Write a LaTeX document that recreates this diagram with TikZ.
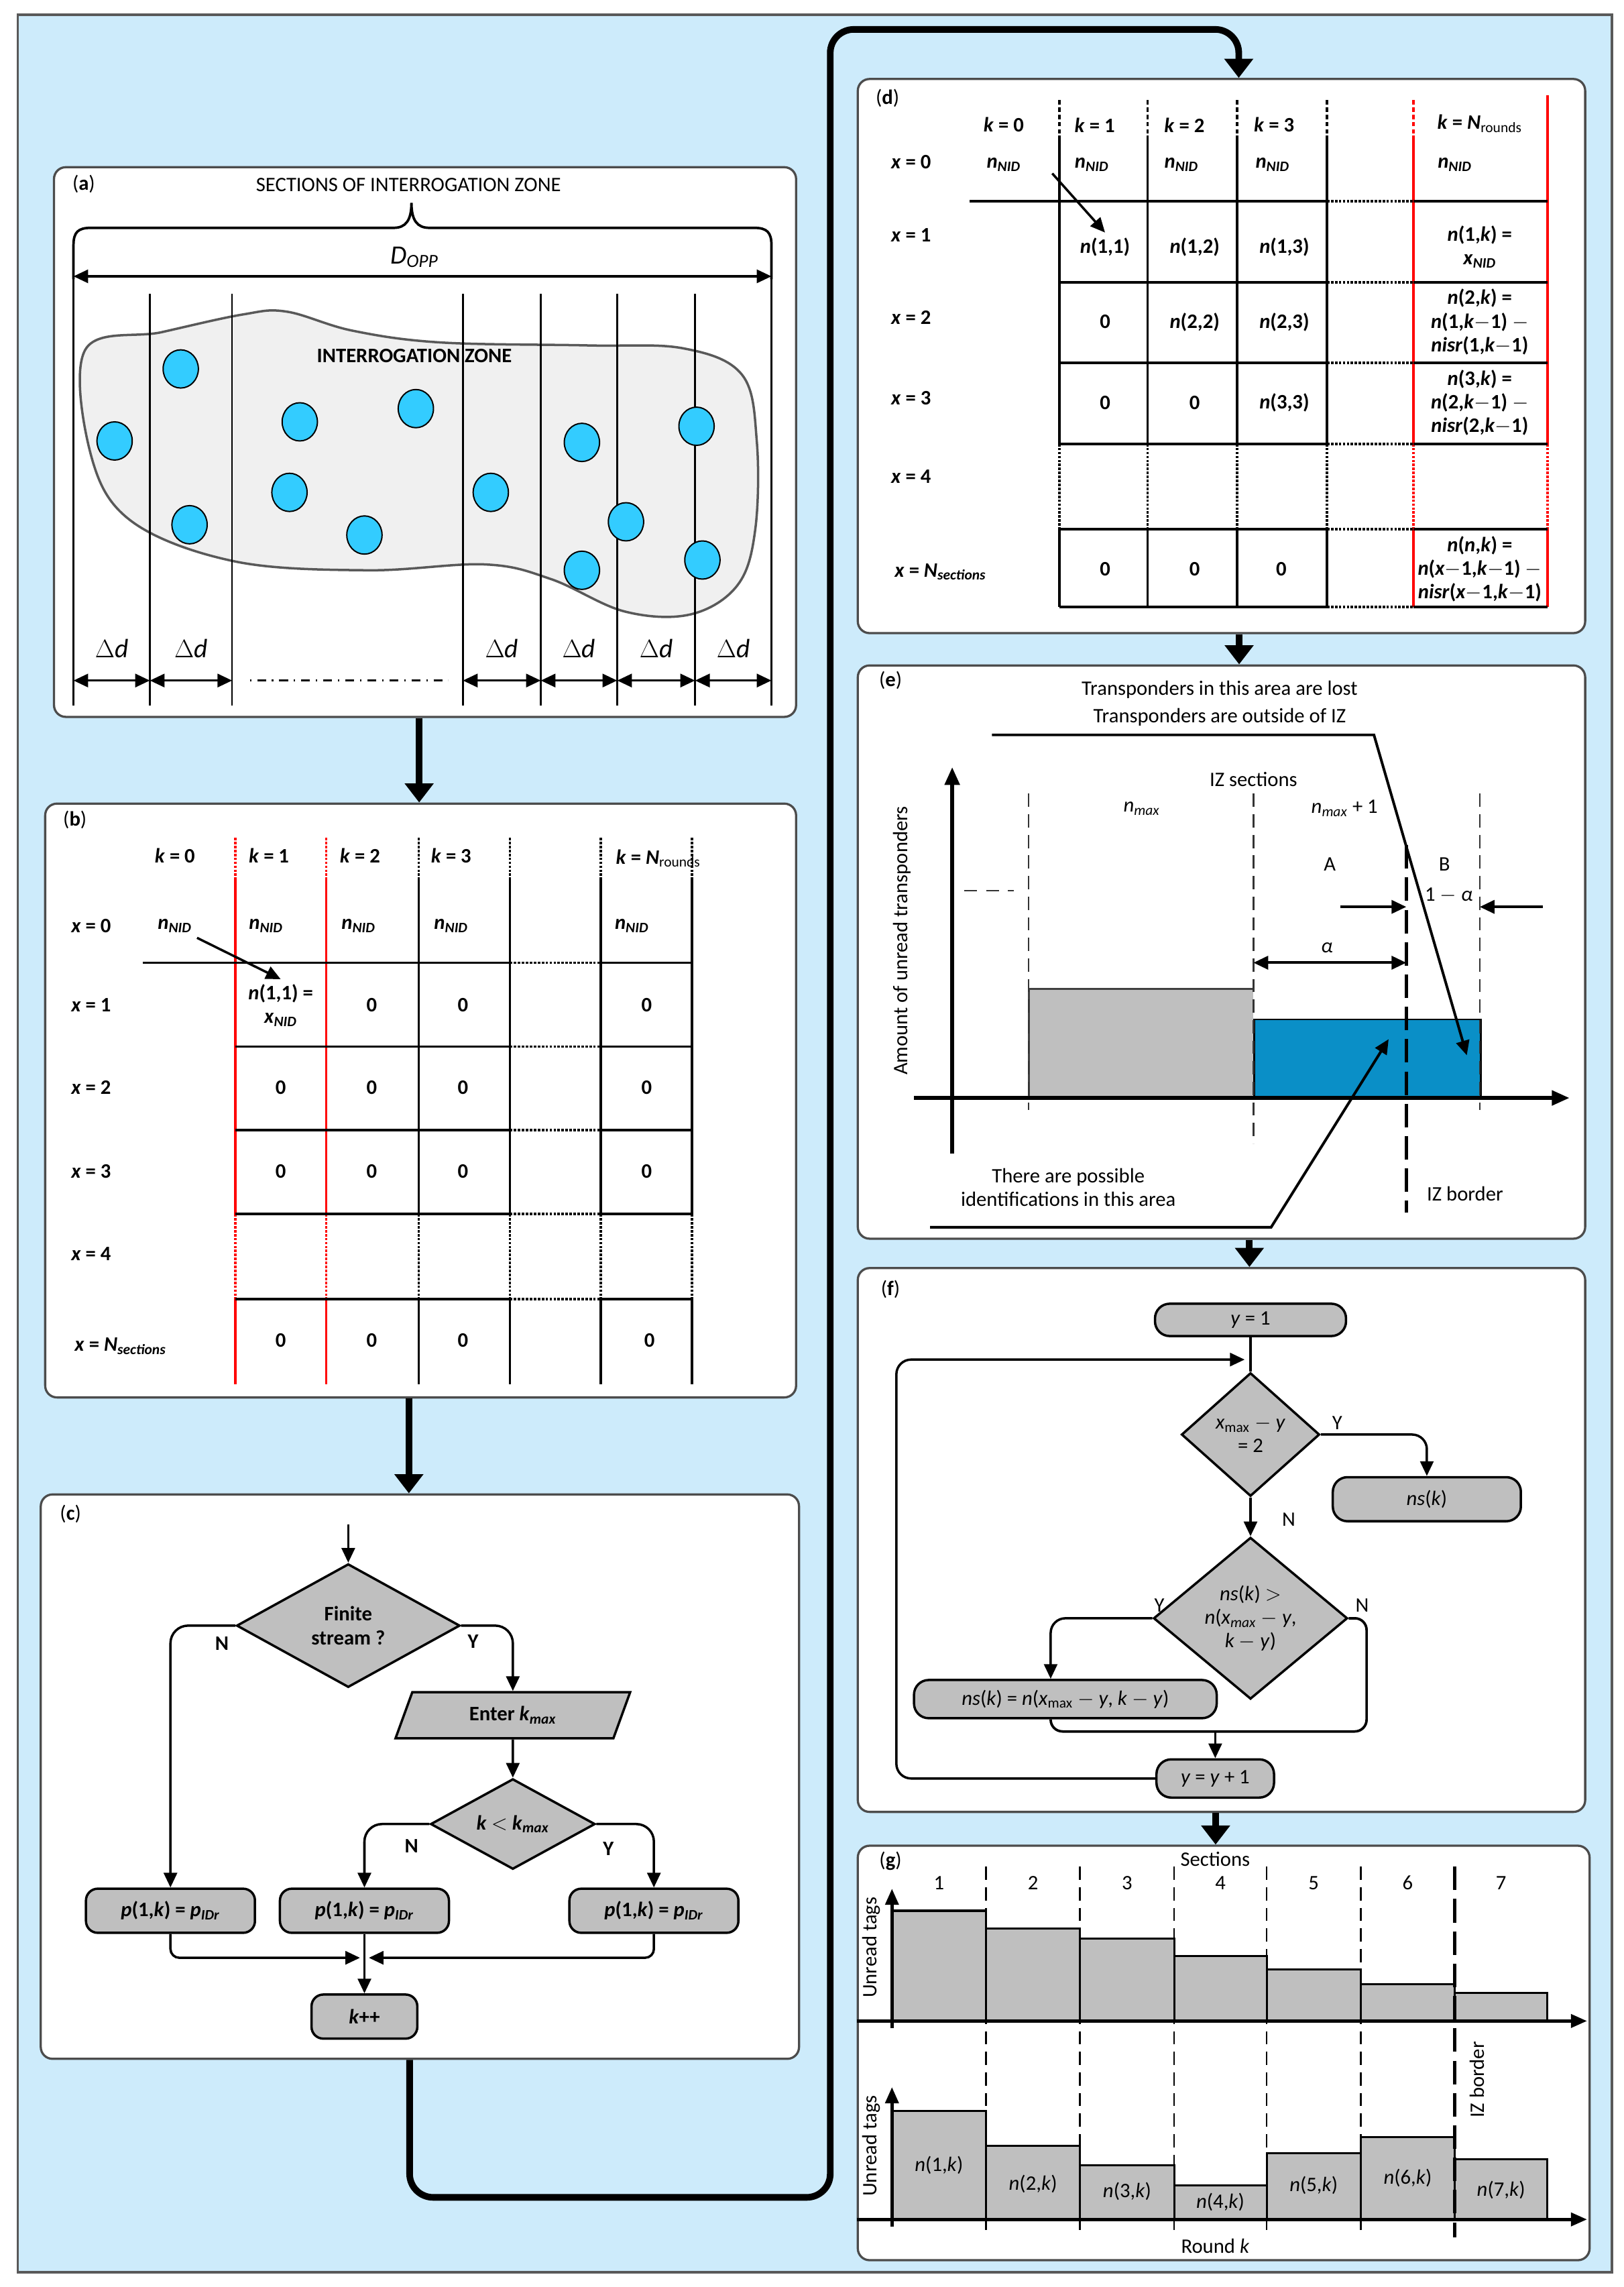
\documentclass[tikz,border=0pt]{standalone}
\usepackage{fontspec}
\setmainfont{Carlito}
\usetikzlibrary{arrows.meta,shapes.geometric,calc}
\definecolor{bgblue}{HTML}{CDEBFB}
\definecolor{boxgray}{HTML}{BFBFBF}
\definecolor{dotc}{HTML}{33CCFF}
\definecolor{zoneblue}{HTML}{0A8FC7}
\newcommand\sbs[1]{\textsubscript{#1}}
\newcommand\fs{\fontsize{14}{16}\selectfont}
\begin{document}
\begin{tikzpicture}[x=1pt,y=-1pt,font=\fs,
 panel/.style={draw=gray!60!black,line width=1.5pt,fill=white,rounded corners=8pt,inner sep=0,anchor=north west},
 big/.style={line width=4.5pt,-{Triangle[length=13pt,width=19pt]}},
 lw/.style={line width=1.7pt},
 arr/.style={line width=1.6pt,-{Triangle[length=10pt,width=9pt]}},
 dbl/.style={line width=1.6pt,{Triangle[length=10pt,width=9pt]}-{Triangle[length=10pt,width=9pt]}},
 fbox/.style={draw,line width=1.6pt,fill=boxgray,rounded corners=8pt,inner sep=2pt},
 dec/.style={draw,diamond,line width=1.6pt,fill=boxgray,inner sep=0pt,align=center},
 tag/.style={draw,fill=dotc,line width=0.9pt,ellipse,minimum width=24pt,minimum height=26pt,inner sep=0},
 tb/.style={font=\fs\bfseries},
 ct/.style={font=\fs\bfseries,align=center},
 bar/.style={fill=boxgray,draw,line width=1.4pt}]
\useasboundingbox (0,0) rectangle (1105,1556);
\fill[white] (0,0) rectangle (1105,1556);
\draw[fill=bgblue,draw=gray!70!black,line width=1.5pt] (12,10) rectangle (1097,1546);

% panels
\node[panel,minimum width=505pt,minimum height=374pt] (pa) at (36,113) {};
\node[panel,minimum width=511pt,minimum height=404pt] (pb) at (30,546) {};
\node[panel,minimum width=516pt,minimum height=384pt] (pc) at (27,1016) {};
\node[panel,minimum width=495pt,minimum height=377pt] (pd) at (583,53) {};
\node[panel,minimum width=495pt,minimum height=390pt] (pe) at (583,452) {};
\node[panel,minimum width=495pt,minimum height=370pt] (pf) at (583,862) {};
\node[panel,minimum width=498pt,minimum height=282pt] (pg) at (583,1255) {};

% big connectors
\draw[big] ([xshift=-4pt]pa.south) -- ([xshift=-4pt]pa.south |- pb.north);
\draw[big] ([xshift=-8pt]pb.south) -- ([xshift=-8pt]pb.south |- pc.north);
\coordinate (c1) at (278,1495);
\coordinate (c2) at (565,20);
\draw[big,rounded corners=16pt] ([xshift=-7pt]pc.south) -- ([xshift=-7pt]pc.south |- c1) -- (c1 -| c2) -- (c2) -- (843,20) -- (843,53);
\draw[big] ([xshift=12pt]pd.south) -- ([xshift=12pt]pd.south |- pe.north);
\draw[big] ([xshift=19pt]pe.south) -- ([xshift=19pt]pe.south |- pf.north);
\draw[big] ([xshift=-4pt]pf.south) -- ([xshift=-4pt]pf.south |- pg.north);

% ===== (a)
\node (la) at (57,125) {(\textbf{a})};
\node (ta) at (278,126) {SECTIONS OF INTERROGATION ZONE};
\draw[lw] (50,190) -- (50,167) .. controls (50,158) and (53,155) .. (62,155) -- (268,155)
  .. controls (276,155) and (280,150) .. (280,138) .. controls (280,150) and (284,155) .. (292,155)
  -- (513,155) .. controls (522,155) and (525,158) .. (525,167) -- (525,190);
\draw[gray!70!black,fill=gray!12,line width=1.6pt] plot[smooth cycle,tension=0.6] coordinates {
 (58,238) (110,226) (165,214) (195,212) (240,225) (300,233) (400,235) (465,237) (505,255)
 (515,300) (514,360) (502,398) (470,418) (425,416) (375,394) (330,384) (250,388) (160,382) (90,355) (62,310)};
\foreach \x in {50,525}{\draw[line width=1.1pt] (\x,175) -- (\x,480);}
\foreach \x in {102,158,315,368,420,473}{\draw[line width=1.1pt] (\x,200) -- (\x,480);}
\draw[dbl] (50,188) -- (525,188);
\node (dopp) at (282,175) {\fontsize{18}{20}\selectfont\textit{D}\sbs{\textit{OPP}}};
\node[tb] (iz) at (282,242) {INTERROGATION ZONE};
\foreach \p [count=\i] in {(123,251),(78,300),(129,357),(204,287),(197,335),(248,364),(283,278),(334,335),(396,301),(426,355),(396,388),(474,290),(478,381)}
 {\node[tag] (tag\i) at \p {};}
\foreach \a/\b [count=\i] in {50/102,102/158,315/368,368/420,420/473,473/525}{
  \draw[dbl] (\a,463) -- (\b,463);
  \node (dd\i) at ({(\a+\b)/2},441) {\fontsize{18}{20}\selectfont$\Delta$\textit{d}};}
\draw[line width=1.1pt,dash pattern=on 1pt off 4pt on 6pt off 4pt] (170,463) -- (305,463);

% ===== (b)
\node (lb) at (51,558) {(\textbf{b})};
\foreach \x in {160,222}{
 \draw[red,lw,densely dotted] (\x,570) -- (\x,597);
 \draw[red,lw] (\x,597) -- (\x,826);
 \draw[red,lw,densely dotted] (\x,826) -- (\x,884);
 \draw[red,lw] (\x,884) -- (\x,942);}
\foreach \x in {285,347,409,471}{
 \draw[lw,densely dotted] (\x,570) -- (\x,597);
 \draw[lw] (\x,597) -- (\x,826);
 \draw[lw,densely dotted] (\x,826) -- (\x,884);
 \draw[lw] (\x,884) -- (\x,942);}
\draw[lw] (97,655) -- (160,655);
\foreach \y in {655,712,769,826,884}{
 \draw[lw] (160,\y) -- (347,\y);
 \draw[lw,densely dotted] (347,\y) -- (409,\y);
 \draw[lw] (409,\y) -- (471,\y);}
\foreach \t/\x [count=\i] in {0/119,1/183,2/245,3/307}{\node[tb] (bk\i) at (\x,582) {\textit{k} = \t};}
\node[tb] (bkn) at (448,584) {\textit{k} = \textit{N}\sbs{\normalfont rounds}};
\foreach \t/\y [count=\i] in {0/630,1/684,2/740,3/797,4/853}{\node[tb] (bx\i) at (62,\y) {\textit{x} = \t};}
\node[tb] (bxn) at (82,916) {\textit{x} = \textit{N}\sbs{\textit{sections}}};
\foreach \x [count=\i] in {119,181,244,307,430}{\node[tb] (bn\i) at (\x,630) {\textit{n}\sbs{\textit{NID}}};}
\node[ct] (b11) at (191,684) {\textit{n}(1,1) =\\\textit{x}\sbs{\textit{NID}}};
\foreach \x/\y [count=\i] in {253/684,315/684,440/684,191/740,253/740,315/740,440/740,191/797,253/797,315/797,440/797,191/912,253/912,315/912,442/912}
 {\node[tb] (bz\i) at (\x,\y) {0};}
\draw[arr] (bn1.south east) -- (b11.north);

% ===== (c)
\node (lc) at (48,1030) {(\textbf{c})};
\node[dec,minimum width=152pt,minimum height=84pt,font=\fs\bfseries] (cd1) at (237,1106) {Finite\\stream ?};
\coordinate (cin) at (237,1037);
\draw[arr] (cin) -- (cd1.north);
\node[draw,trapezium,trapezium left angle=70,trapezium right angle=110,line width=1.6pt,fill=boxgray,minimum width=160pt,minimum height=30pt,font=\fs\bfseries,inner sep=1pt] (cin2) at (349,1167) {Enter \textit{k}\sbs{\textit{max}}};
\node[dec,minimum width=112pt,minimum height=60pt,font=\fs\bfseries] (cd2) at (349,1241) {\textit{k} $<$ \textit{k}\sbs{\textit{max}}};
\node[fbox,minimum width=115pt,minimum height=30pt,font=\fs\bfseries] (cp1) at (116,1300) {\textit{p}(1,\textit{k}) = \textit{p}\sbs{\textit{IDr}}};
\node[fbox,minimum width=115pt,minimum height=30pt,font=\fs\bfseries] (cp2) at (248,1300) {\textit{p}(1,\textit{k}) = \textit{p}\sbs{\textit{IDr}}};
\node[fbox,minimum width=115pt,minimum height=30pt,font=\fs\bfseries] (cp3) at (445,1300) {\textit{p}(1,\textit{k}) = \textit{p}\sbs{\textit{IDr}}};
\node[fbox,minimum width=72pt,minimum height=30pt,font=\fs\bfseries] (ckk) at (248,1372) {\textit{k}++};
\draw[arr,rounded corners=12pt] (cd1.west) -| (cp1.north);
\draw[arr,rounded corners=12pt] (cd1.east) -| (cin2.north);
\draw[arr] (cin2.south) -- (cd2.north);
\draw[arr,rounded corners=12pt] (cd2.west) -| (cp2.north);
\draw[arr,rounded corners=12pt] (cd2.east) -| (cp3.north);
\node[tb] (cn1) at (151,1118) {N};
\node[tb] (cy1) at (322,1117) {Y};
\node[tb] (cn2) at (280,1256) {N};
\node[tb] (cy2) at (414,1258) {Y};
\coordinate (cm) at (248,1332);
\draw[arr,rounded corners=6pt] (cp1.south) |- ([xshift=-3pt]cm);
\draw[arr,rounded corners=6pt] (cp3.south) |- ([xshift=3pt]cm);
\draw[arr] (cp2.south) -- (ckk.north);

% ===== (d)
\node (ld) at (604,67) {(\textbf{d})};
\foreach \x in {721,781,842,903}{
 \draw[lw,densely dashed] (\x,68) -- (\x,92);
 \draw[lw] (\x,92) -- (\x,302);
 \draw[lw,densely dotted] (\x,302) -- (\x,360);
 \draw[lw] (\x,360) -- (\x,413);}
\draw[red,lw,densely dashed] (962,68) -- (962,92);
\draw[red,lw] (962,92) -- (962,302);
\draw[red,lw,densely dotted] (962,302) -- (962,360);
\draw[red,lw] (962,360) -- (962,413);
\draw[red,lw] (1053,65) -- (1053,302);
\draw[red,lw,densely dotted] (1053,302) -- (1053,360);
\draw[red,lw] (1053,360) -- (1053,413);
\draw[lw] (660,137) -- (721,137);
\foreach \y in {137,192,247,302,360,413}{
 \draw[lw] (721,\y) -- (903,\y);
 \draw[lw,densely dotted] (903,\y) -- (962,\y);
 \draw[lw] (962,\y) -- (1053,\y);}
\foreach \t/\x [count=\i] in {0/683,1/745,2/806,3/867}{\node[tb] (dk\i) at (\x,85) {\textit{k} = \t};}
\node[tb] (dkn) at (1007,84) {\textit{k} = \textit{N}\sbs{\normalfont rounds}};
\foreach \t/\y [count=\i] in {0/110,1/160,2/216,3/271,4/324}{\node[tb] (dx\i) at (620,\y) {\textit{x} = \t};}
\node[tb] (dxn) at (640,389) {\textit{x} = \textit{N}\sbs{\textit{sections}}};
\foreach \x [count=\i] in {683,743,804,866,990}{\node[tb] (dn\i) at (\x,112) {\textit{n}\sbs{\textit{NID}}};}
\node[tb] (d11) at (752,168) {\textit{n}(1,1)};
\node[tb] (d12) at (813,168) {\textit{n}(1,2)};
\node[tb] (d13) at (874,168) {\textit{n}(1,3)};
\node[ct] (d1k) at (1007,168) {\textit{n}(1,\textit{k}) =\\\textit{x}\sbs{\textit{NID}}};
\node[tb] (d21) at (752,219) {0};
\node[tb] (d22) at (813,219) {\textit{n}(2,2)};
\node[tb] (d23) at (874,219) {\textit{n}(2,3)};
\node[ct,inner sep=0] (d2k) at (1007,219) {\textit{n}(2,\textit{k}) =\\\textit{n}(1,\textit{k}$-$1) $-$\\\textit{nisr}(1,\textit{k}$-$1)};
\node[tb] (d31) at (752,274) {0};
\node[tb] (d32) at (813,274) {0};
\node[tb] (d33) at (874,274) {\textit{n}(3,3)};
\node[ct,inner sep=0] (d3k) at (1007,274) {\textit{n}(3,\textit{k}) =\\\textit{n}(2,\textit{k}$-$1) $-$\\\textit{nisr}(2,\textit{k}$-$1)};
\node[tb] (dn1z) at (752,387) {0};
\node[tb] (dn2z) at (813,387) {0};
\node[tb] (dn3z) at (872,387) {0};
\node[ct,inner sep=0] (dnk) at (1007,387) {\textit{n}(\textit{n},\textit{k}) =\\\textit{n}(\textit{x}$-$1,\textit{k}$-$1) $-$\\\textit{nisr}(\textit{x}$-$1,\textit{k}$-$1)};
\draw[arr] ([xshift=18pt,yshift=-6pt]dn1.east) -- (d11.north);

% ===== (e)
\node (le) at (606,463) {(\textbf{e})};
\node (et1) at (830,469) {Transponders in this area are lost};
\node (et2) at (830,488) {Transponders are outside of IZ};
\fill[boxgray] (700,673) rectangle (853,747);
\draw[gray!50!black,line width=1.4pt] (700,747) -- (700,673) -- (853,673);
\node[fill=zoneblue,draw=black,line width=1.2pt,minimum width=154pt,minimum height=54pt,inner sep=0,anchor=north west] (eblue) at (853,693) {};
\foreach \x/\a/\b in {700/540/755,853/540/778,1007/540/755}{\draw[gray!40!black,line width=1.2pt,dash pattern=on 9pt off 5pt] (\x,\a) -- (\x,\b);}
\draw[line width=2.2pt,dash pattern=on 16pt off 6pt] (957,575) -- (957,825);
\draw[line width=1.2pt,gray!40!black,dash pattern=on 9pt off 6pt] (656,606) -- (690,606);
\draw[line width=2.4pt,-{Triangle[length=12pt,width=10pt]}] (648,785) -- (648,522);
\draw[line width=2.4pt,-{Triangle[length=12pt,width=10pt]}] (622,747) -- (1068,747);
\node (eiz) at (853,530) {IZ sections};
\node (enm) at (777,550) {\textit{n}\sbs{\textit{max}}};
\node (enm1) at (915,550) {\textit{n}\sbs{\textit{max}} + 1};
\node (ea) at (905,588) {A};
\node (eb) at (983,588) {B};
\node (e1a) at (986,609) {1 $-$ \textit{α}};
\coordinate (ep1) at (912,617);
\coordinate (ep2) at (957,617);
\coordinate (ep3) at (1050,617);
\coordinate (ep4) at (1007,617);
\draw[arr,line width=1.8pt] (ep1) -- (ep2);
\draw[arr,line width=1.8pt] (ep3) -- (ep4);
\coordinate (eal1) at (853,655);
\coordinate (eal2) at (957,655);
\draw[dbl,line width=1.8pt] (eal1) -- (eal2);
\node (eal) at (903,645) {\textit{α}};
\node[rotate=90] (eyl) at (614,640) {Amount of unread transponders};
\coordinate (eq1) at (675,500);
\coordinate (eq2) at (935,500);
\draw[arr,line width=1.8pt] (eq1) -- (eq2) -- ([xshift=-10pt,yshift=-25pt]eblue.north east);
\node[align=center] (et3) at (727,808) {There are possible\\identifications in this area};
\coordinate (er1) at (633,835);
\coordinate (er2) at (865,835);
\draw[arr,line width=1.8pt] (er1) -- (er2) -- ([xshift=92pt,yshift=-14pt]eblue.north west);
\node (eizb) at (997,812) {IZ border};

% ===== (f)
\node (lf) at (606,877) {(\textbf{f})};
\node[fbox,minimum width=130pt,minimum height=22pt,rounded corners=10pt] (fy1) at (851,898) {\textit{y} = 1};
\node[dec,minimum width=94pt,minimum height=84pt] (fd1) at (851,976) {\textit{x}\sbs{max} $-$ \textit{y}\\= 2};
\node[fbox,minimum width=128pt,minimum height=30pt,rounded corners=10pt] (fns) at (971,1020) {\textit{ns}(\textit{k})};
\node[dec,minimum width=132pt,minimum height=110pt] (fd2) at (851,1101) {\textit{ns}(\textit{k}) $>$\\\textit{n}(\textit{x}\sbs{\textit{max}} $-$ \textit{y},\\\textit{k} $-$ \textit{y})};
\node[fbox,minimum width=206pt,minimum height=26pt,rounded corners=10pt] (fa) at (725,1156) {\textit{ns}(\textit{k}) = \textit{n}(\textit{x}\sbs{max} $-$ \textit{y}, \textit{k} $-$ \textit{y})};
\node[fbox,minimum width=80pt,minimum height=26pt,rounded corners=10pt] (fyy) at (827,1210) {\textit{y} = \textit{y} + 1};
\draw[lw] (fy1) -- (fd1);
\coordinate (fl1) at (610,1210);
\coordinate (fl2) at (847,925);
\draw[arr,rounded corners=10pt] (fyy.west) -- (fl1) -- (fl1 |- fl2) -- (fl2);
\draw[arr,rounded corners=10pt] (fd1.east) -| (fns.north);
\draw[arr] (fd1.south) -- (fd2.north);
\draw[arr,rounded corners=10pt] (fd2.west) -| ([xshift=-10pt]fa.north);
\coordinate (fr1) at (930,1101);
\coordinate (fr2) at (930,1178);
\coordinate (fm) at (827,1178);
\draw[lw,rounded corners=8pt] (fd2.east) -- (fr1) -- (fr2) -- ([xshift=-10pt]fa.south |- fr2) -- ([xshift=-10pt]fa.south);
\draw[arr] (fm) -- (fyy.north);
\node (fyl1) at (910,968) {Y};
\node (fnl1) at (877,1034) {N};
\node (fyl2) at (789,1092) {Y};
\node (fnl2) at (927,1092) {N};

% ===== (g)
\node (lg) at (606,1266) {(\textbf{g})};
\foreach \a/\b/\t [count=\i] in {607/671/1300,671/735/1312,735/799/1319,799/862/1331,862/926/1340,926/990/1350,990/1053/1356}
 {\draw[bar] (\a,1375) rectangle (\b,\t);
  \node (gs\i) at ({(\a+\b)/2},1281) {\i};}
\foreach \a/\b/\t/\ly [count=\i] in {607/671/1436/1473,671/735/1460/1486,735/799/1473/1491,799/862/1487/1498,862/926/1465/1487,926/990/1454/1482,990/1053/1469/1490}
 {\draw[bar] (\a,1510) rectangle (\b,\t);
  \node (gn\i) at ({(\a+\b)/2},\ly) {\textit{n}(\i,\textit{k})};}
\foreach \x in {671,735,799,862,926}{\draw[line width=1.2pt,dash pattern=on 9pt off 5pt] (\x,1270) -- (\x,1520);}
\draw[line width=2.4pt,dash pattern=on 16pt off 6pt] (990,1270) -- (990,1522);
\draw[line width=2.2pt,-{Triangle[length=11pt,width=9pt]}] (607,1380) -- (607,1285);
\draw[line width=2.2pt,-{Triangle[length=11pt,width=9pt]}] (583,1375) -- (1080,1375);
\draw[line width=2.2pt,-{Triangle[length=11pt,width=9pt]}] (607,1515) -- (607,1420);
\draw[line width=2.2pt,-{Triangle[length=11pt,width=9pt]}] (583,1510) -- (1080,1510);
\node (gsec) at (827,1265) {Sections};
\node (grk) at (827,1528) {Round \textit{k}};
\node[rotate=90] (gu1) at (593,1325) {Unread tags};
\node[rotate=90] (gu2) at (593,1460) {Unread tags};
\node[rotate=90] (gizb) at (1005,1415) {IZ border};
\end{tikzpicture}
\end{document}
